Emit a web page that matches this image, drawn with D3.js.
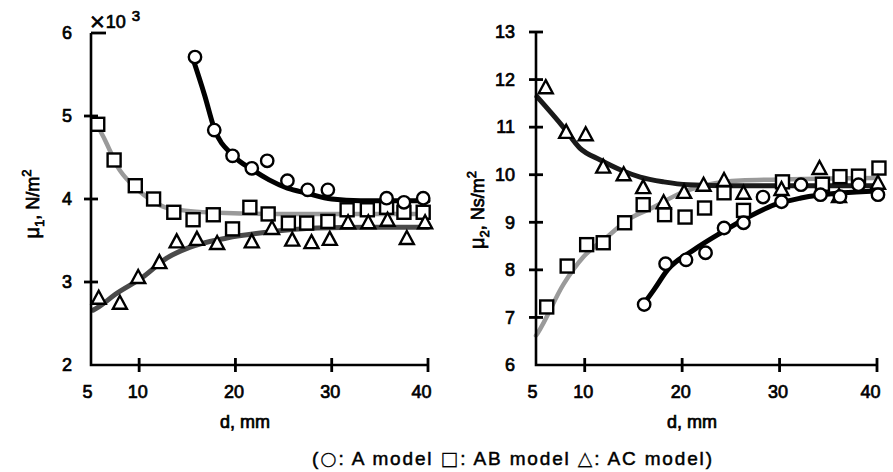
<!DOCTYPE html>
<html><head><meta charset="utf-8">
<script src="https://cdn.jsdelivr.net/npm/d3@7"></script>
<style>
html,body{margin:0;padding:0;background:#fff;}
svg text{font-family:"Liberation Sans",Arial,Helvetica,sans-serif;fill:#000;}
</style></head>
<body>
<svg id="chart" width="893" height="472"></svg>
<script>
// ---------- data ----------
const xTicks = [5, 10, 20, 30, 40];
const yTicksLeft = [2, 3, 4, 5, 6];
const yTicksRight = [6, 7, 8, 9, 10, 11, 12, 13];

// Left panel (mu1, x10^3 N/m^2)
const leftA_d   = [15.8, 17.8, 19.7, 21.7, 23.3, 25.4, 27.5, 29.6, 35.7, 37.5, 39.5];
const leftA_v   = [5.71, 4.83, 4.52, 4.37, 4.46, 4.22, 4.11, 4.11, 4.01, 3.96, 4.01];
const leftAB_d  = [5.7, 7.4, 9.6, 11.5, 13.6, 15.6, 17.7, 19.7, 21.5, 23.4, 25.5, 27.4, 29.6, 31.6, 33.7, 35.7, 37.5, 39.5];
const leftAB_v  = [4.90, 4.47, 4.16, 4.00, 3.84, 3.75, 3.81, 3.64, 3.90, 3.82, 3.71, 3.71, 3.73, 3.87, 3.87, 3.90, 3.84, 3.84];
const leftAC_d  = [5.8, 8.0, 9.9, 12.1, 13.9, 16.0, 18.1, 21.7, 23.8, 25.9, 27.9, 29.8, 31.7, 33.8, 35.8, 37.8, 39.7];
const leftAC_v  = [2.81, 2.75, 3.06, 3.24, 3.49, 3.52, 3.47, 3.49, 3.65, 3.51, 3.48, 3.52, 3.72, 3.72, 3.75, 3.53, 3.72];

const leftFitA_d  = [15.5, 16.8, 17.8, 19.7, 21.8, 23.5, 25.4, 27.4, 30, 33, 40];
const leftFitA_v  = [5.72, 5.25, 4.85, 4.53, 4.35, 4.23, 4.13, 4.07, 4.00, 3.98, 3.98];
const leftFitAB_d = [5.6, 6.5, 7.8, 9.3, 10.5, 12.7, 14.8, 19, 25, 30, 35, 40];
const leftFitAB_v = [4.90, 4.70, 4.38, 4.17, 4.05, 3.90, 3.86, 3.83, 3.82, 3.82, 3.82, 3.82];
const leftFitAC_d = [5.2, 5.8, 7.5, 10.4, 12.9, 15.3, 19.1, 23.3, 28.5, 33.7, 40];
const leftFitAC_v = [2.66, 2.70, 2.85, 3.06, 3.29, 3.42, 3.53, 3.60, 3.65, 3.66, 3.66];

// Right panel (mu2, Ns/m^2)
const rightA_d  = [16.1, 18.3, 20.4, 22.4, 24.3, 26.3, 28.3, 30.2, 32.2, 34.2, 36.2, 38.1, 40.1];
const rightA_v  = [7.27, 8.13, 8.21, 8.36, 8.88, 8.99, 9.53, 9.43, 9.79, 9.58, 9.54, 9.79, 9.58];
const rightAB_d = [6.1, 8.2, 10.2, 11.9, 14.1, 16.0, 18.2, 20.3, 22.3, 24.3, 26.3, 30.3, 34.4, 36.2, 38.1, 40.2];
const rightAB_v = [7.22, 8.08, 8.53, 8.57, 8.99, 9.37, 9.16, 9.11, 9.30, 9.62, 9.25, 9.85, 9.80, 9.96, 9.97, 10.14];
const rightAC_d = [6.0, 8.1, 10.1, 11.9, 14.0, 16.0, 18.1, 20.2, 22.2, 24.3, 26.3, 30.2, 34.1, 36.1, 40.1];
const rightAC_v = [11.84, 10.90, 10.85, 10.17, 10.01, 9.74, 9.42, 9.64, 9.79, 9.89, 9.62, 9.70, 10.14, 9.55, 9.83];

const rightFitA_d  = [16.0, 17.1, 18.5, 21.2, 24.0, 26.8, 29.5, 32.2, 36.4, 40];
const rightFitA_v  = [7.27, 7.58, 8.00, 8.42, 8.78, 9.11, 9.37, 9.51, 9.62, 9.66];
const rightFitAB_d = [5.0, 5.2, 7.8, 9.9, 12.3, 14.4, 17.1, 19.9, 22.6, 26, 30, 35, 40];
const rightFitAB_v = [6.62, 6.68, 7.69, 8.28, 8.69, 9.05, 9.32, 9.62, 9.79, 9.88, 9.90, 9.92, 9.93];
const rightFitAC_d = [5.1, 7.8, 9.5, 11.6, 13.7, 15.7, 18.1, 20.6, 25, 30, 35, 40];
const rightFitAC_v = [11.64, 11.00, 10.56, 10.31, 10.10, 9.95, 9.85, 9.79, 9.77, 9.77, 9.77, 9.77];

const legendParts = [["(", false], ["○", true], [": A model ", false], ["□", true], [": AB model ", false], ["△", true], [": AC model)", false]];

// ---------- drawing ----------
const svg = d3.select("#chart");
const zip = (a, b) => a.map((d, i) => [d, b[i]]);
const TXT_STROKE = 0.7;

function panel(cfg) {
  const x = d3.scaleLinear().domain([5, 40]).range(cfg.xr);
  const y = d3.scaleLinear().domain(cfg.yd).range(cfg.yr);
  const g = svg.append("g");

  // fitted curves
  const line = d3.line().x(p => x(p[0])).y(p => y(p[1])).curve(d3.curveMonotoneX);
  cfg.fits.forEach(f => {
    g.append("path").attr("d", line(zip(f.d, f.v)))
      .attr("fill", "none").attr("stroke", f.color).attr("stroke-width", f.w)
      .attr("stroke-linecap", "round").attr("stroke-linejoin", "round");
  });

  // axes (labels via d3 axis, tick marks drawn explicitly)
  const yAx = g.append("g").attr("transform", `translate(${cfg.xr[0]},0)`)
    .call(d3.axisLeft(y).tickValues(cfg.yTicks).tickSize(7).tickPadding(cfg.yPad).tickFormat(d3.format("d")));
  yAx.select(".domain").remove();
  yAx.selectAll(".tick line").remove();
  yAx.selectAll("text").attr("font-size", 18).attr("stroke", "#000").attr("stroke-width", TXT_STROKE);

  const xAx = g.append("g").attr("transform", `translate(0,${cfg.yr[0]})`)
    .call(d3.axisBottom(x).tickValues(xTicks).tickSize(7).tickPadding(13).tickFormat(d3.format("d")));
  xAx.select(".domain").remove();
  xAx.selectAll(".tick line").remove();
  xAx.selectAll("text").attr("font-size", 18).attr("stroke", "#000").attr("stroke-width", TXT_STROKE)
    .attr("dx", d => d === 40 ? -7 : d === 5 ? -4 : -2);

  const tk = g.append("g").attr("stroke", "#000").attr("stroke-width", 2.8);
  tk.selectAll("line.yt").data(cfg.yTicks.filter(v => v !== cfg.yd[0])).join("line")
    .attr("x1", v => (cfg.topInward && v === cfg.yd[1]) ? cfg.xr[0] : cfg.xr[0] - 7)
    .attr("x2", v => (cfg.topInward && v === cfg.yd[1]) ? cfg.xr[0] + 15 : cfg.xr[0] + 7)
    .attr("y1", v => y(v)).attr("y2", v => y(v));
  tk.selectAll("line.xt").data(xTicks.filter(v => v !== 5)).join("line")
    .attr("x1", v => x(v)).attr("x2", v => x(v))
    .attr("y1", cfg.yr[0] - 7).attr("y2", cfg.yr[0] + 7);

  // axis lines (L shape)
  g.append("path")
    .attr("d", `M${cfg.xr[0]},${cfg.yr[1]}V${cfg.yr[0]}H${cfg.xr[1]}`)
    .attr("fill", "none").attr("stroke", "#000").attr("stroke-width", 2.6);

  // markers
  const mk = g.append("g").attr("fill", "#fff").attr("stroke", "#000").attr("stroke-width", 2.4);
  mk.selectAll("rect.ab").data(zip(cfg.AB.d, cfg.AB.v)).join("rect")
    .attr("x", p => x(p[0]) - 6.5).attr("y", p => y(p[1]) - 6.5).attr("width", 13).attr("height", 13);
  mk.selectAll("path.ac").data(zip(cfg.AC.d, cfg.AC.v)).join("path")
    .attr("d", p => { const cx = x(p[0]), cy = y(p[1]); return `M${cx},${cy - 7}L${cx + 7},${cy + 6}L${cx - 7},${cy + 6}Z`; });
  mk.selectAll("circle").data(zip(cfg.A.d, cfg.A.v)).join("circle")
    .attr("cx", p => x(p[0])).attr("cy", p => y(p[1])).attr("r", 6.2);

  // x title
  g.append("text").attr("x", x(21)).attr("y", 428).attr("text-anchor", "middle")
    .attr("font-size", 18).attr("stroke", "#000").attr("stroke-width", TXT_STROKE).text("d, mm");

  // y title
  const t = g.append("text").attr("transform", `translate(${cfg.titleX},${cfg.titleY}) rotate(-90)`)
    .attr("text-anchor", "middle").attr("font-size", 18).attr("stroke", "#000").attr("stroke-width", TXT_STROKE);
  t.append("tspan").attr("font-size", 20).text("μ");
  t.append("tspan").attr("font-size", 13).attr("dy", 5).text(cfg.sub);
  t.append("tspan").attr("dy", -5).text(cfg.unit);
  t.append("tspan").attr("font-size", 13).attr("dy", -8).text("2");
  return { x, y };
}

panel({
  xr: [91, 428], yd: [2, 6], yr: [365, 33], yTicks: yTicksLeft, yPad: 12, topInward: true,
  A: { d: leftA_d, v: leftA_v }, AB: { d: leftAB_d, v: leftAB_v }, AC: { d: leftAC_d, v: leftAC_v },
  fits: [
    { d: leftFitAB_d, v: leftFitAB_v, color: "#9a9a9a", w: 4.5 },
    { d: leftFitAC_d, v: leftFitAC_v, color: "#4a4a4a", w: 5 },
    { d: leftFitA_d, v: leftFitA_v, color: "#000", w: 5 }
  ],
  sub: "1", unit: ", N/m", titleX: 39, titleY: 204
});

panel({
  xr: [536, 877], yd: [6, 13], yr: [365, 32], yTicks: yTicksRight, yPad: 14, topInward: false,
  A: { d: rightA_d, v: rightA_v }, AB: { d: rightAB_d, v: rightAB_v }, AC: { d: rightAC_d, v: rightAC_v },
  fits: [
    { d: rightFitAB_d, v: rightFitAB_v, color: "#9a9a9a", w: 4.5 },
    { d: rightFitAC_d, v: rightFitAC_v, color: "#1a1a1a", w: 5 },
    { d: rightFitA_d, v: rightFitA_v, color: "#000", w: 5 }
  ],
  sub: "2", unit: ", Ns/m", titleX: 484, titleY: 210
});

// x10^3 multiplier
const mult = svg.append("text").attr("x", 89).attr("y", 28).attr("font-size", 18)
  .attr("stroke", "#000").attr("stroke-width", TXT_STROKE);
mult.append("tspan").attr("font-family", "DejaVu Sans").attr("font-size", 20).text("×");
mult.append("tspan").text("10");
mult.append("tspan").attr("dx", 6).attr("dy", -7).attr("font-size", 15).text("3");

// legend
const leg = svg.append("text").attr("x", 312).attr("y", 465).attr("font-size", 19)
  .attr("stroke", "#000").attr("stroke-width", 0.5)
  .attr("textLength", 400).attr("lengthAdjust", "spacing");
legendParts.forEach(([s, sym]) => {
  const ts = leg.append("tspan").text(s);
  if (sym) ts.attr("font-family", "DejaVu Sans").attr("font-size", 19).attr("stroke-width", 0.2);
});
</script>
</body></html>
